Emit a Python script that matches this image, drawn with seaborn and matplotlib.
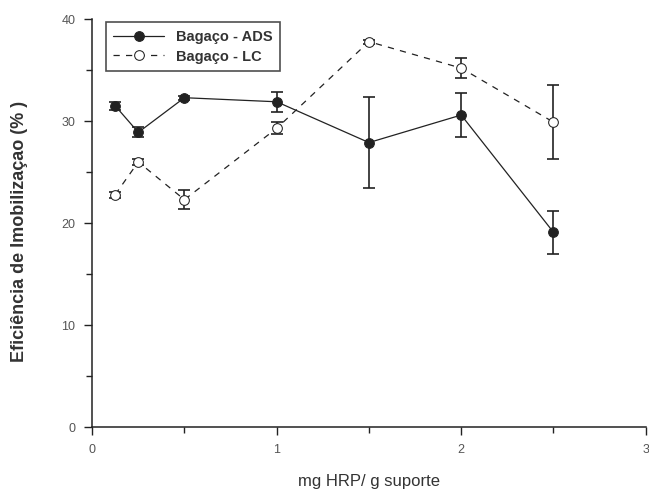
import numpy as np
import pandas as pd
import seaborn as sns
import matplotlib.pyplot as plt

# dados
hrp = [0.125, 0.25, 0.5, 1.0, 1.5, 2.0, 2.5]
ads = [31.5, 28.9, 32.3, 31.9, 27.9, 30.6, 19.1]
ads_err = [0.4, 0.5, 0.2, 1.0, 4.5, 2.2, 2.1]
lc = [22.8, 26.0, 22.3, 29.3, 37.8, 35.2, 29.9]
lc_err = [0.3, 0.3, 0.9, 0.6, 0.2, 1.0, 3.6]

sns.set_style("ticks")
plt.rcParams["font.family"] = ["Liberation Sans", "DejaVu Sans"]

fig = plt.figure(figsize=(6.49, 4.92), dpi=100)
ax = fig.add_axes([0.142, 0.132, 0.853, 0.829])

df = pd.DataFrame({"x": hrp * 2,
                   "y": ads + lc,
                   "serie": ["Bagaço - ADS"] * len(hrp) + ["Bagaço - LC"] * len(hrp)})

sns.lineplot(data=df[df.serie == "Bagaço - ADS"], x="x", y="y", ax=ax,
             color="#222222", lw=0.9, marker="o", markersize=7,
             markerfacecolor="#222222", markeredgecolor="#222222",
             label="Bagaço - ADS", zorder=3)
sns.lineplot(data=df[df.serie == "Bagaço - LC"], x="x", y="y", ax=ax,
             color="#222222", lw=0.9, marker="o", markersize=7,
             markerfacecolor="white", markeredgecolor="#222222",
             label="Bagaço - LC", zorder=3)
ax.lines[1].set_linestyle((0, (5, 5)))

ax.errorbar(hrp, ads, yerr=ads_err, fmt="none", ecolor="#222222",
            elinewidth=1.2, capsize=4, capthick=1.2, zorder=2)
ax.errorbar(hrp, lc, yerr=lc_err, fmt="none", ecolor="#222222",
            elinewidth=1.2, capsize=4, capthick=1.2, zorder=2)

ax.set_xlim(0, 3)
ax.set_ylim(0, 40)
ax.set_xticks([0, 1, 2, 3])
ax.set_xticks([0.5, 1.5, 2.5], minor=True)
ax.set_yticks([0, 10, 20, 30, 40])
ax.set_yticks([5, 15, 25, 35], minor=True)
ax.tick_params(which="both", direction="out", color="#222222", width=1)
ax.tick_params(which="major", length=6, labelsize=9, labelcolor="#555555", pad=6)
ax.tick_params(which="minor", length=4)
for s in ["left", "bottom"]:
    ax.spines[s].set_color("#222222")
    ax.spines[s].set_linewidth(1.1)
sns.despine(ax=ax)

ax.set_xlabel("mg HRP/ g suporte", fontsize=12, color="#333333", labelpad=13)
ax.set_ylabel("Eficiência de Imobilizaçao (% )", fontsize=13, fontweight="bold",
              color="#333333", labelpad=24)
ax.yaxis.set_label_coords(-0.115, 0.48)

leg = ax.legend(loc="upper left", bbox_to_anchor=(0.012, 1.01), frameon=True,
                fancybox=False, edgecolor="#222222", fontsize=10.5,
                handlelength=3.5, borderpad=0.5, labelspacing=0.4)
leg.get_frame().set_linewidth(1.2)
for t in leg.get_texts():
    t.set_fontweight("bold")
    t.set_color("#333333")

fig.savefig("out.png", dpi=100)
